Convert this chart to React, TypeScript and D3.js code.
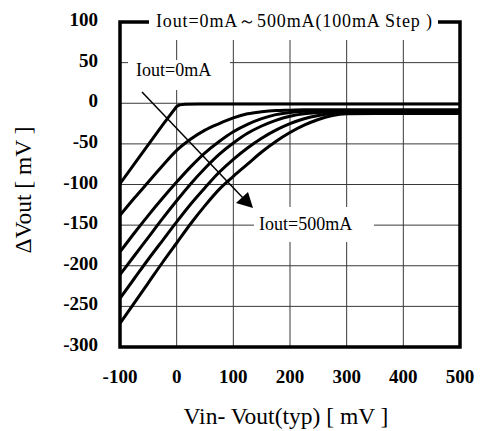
import React from "react";
import * as d3 from "d3";

const W = 481;
const H = 431;

const xTicks = [-100, 0, 100, 200, 300, 400, 500];
const yTicks = [100, 50, 0, -50, -100, -150, -200, -250, -300];

// Vin - Vout(typ) sample points [mV]
const curveX0 = [-100, -75, -50, -25, -10, 0, 5, 15, 40, 500];
const curve0mA = [-99, -75, -51, -27, -13, -4, -2, -1.2, -1, -1];

const curveX = [-100, -75, -50, -25, 0, 25, 50, 75, 100, 125, 150, 175, 200, 225, 250, 275, 300, 350, 500];
const curve100mA = [-138, -117, -97, -77, -58, -44, -33, -25, -18, -13, -10.5, -9, -8.5, -8, -8, -8, -8, -8, -8];
const curve200mA = [-183, -160, -138, -117, -97, -78, -61, -47, -35, -26, -19, -14, -11.5, -10, -9.5, -9.5, -9.5, -9.5, -9.5];
const curve300mA = [-211, -188, -165, -142, -120, -99, -80, -63, -49, -37, -28, -21, -16, -13, -11.5, -10.5, -10.5, -10.5, -10.5];
const curve400mA = [-240, -216, -192, -169, -146, -124, -104, -85, -69, -55, -43, -33, -25, -19, -15, -12.5, -11.5, -11.5, -11.5];
const curve500mA = [-271, -246, -221, -196, -172, -148, -126, -106, -90, -75, -60, -47, -36, -27, -20, -15, -13, -12.5, -12.5];

const seriesList = [curve100mA, curve200mA, curve300mA, curve400mA, curve500mA];

const titleText = "Iout=0mA～500mA(100mA Step )";
const label0 = "Iout=0mA";
const label500 = "Iout=500mA";
const xTitle = "Vin- Vout(typ) [ mV ]";
const yTitle = "ΔVout [ mV ]";

const serif = '"Liberation Serif", "Times New Roman", "DejaVu Serif", serif';

export default function App() {
  const x = d3.scaleLinear().domain([-100, 500]).range([120, 460]);
  const y = d3.scaleLinear().domain([-300, 100]).range([347, 22]);
  const line = d3
    .line<[number, number]>()
    .x((d) => x(d[0]))
    .y((d) => y(d[1]))
    .curve(d3.curveMonotoneX);
  const line0 = d3
    .line<[number, number]>()
    .x((d) => x(d[0]))
    .y((d) => y(d[1]));

  const gridColor = "#3a3a3a";
  const ts = { fontFamily: serif };

  const [x0, x1] = x.range();
  const [y0, y1] = y.range();

  return (
    <svg
      width={W}
      height={H}
      style={{ position: "absolute", left: 0, top: 0, background: "#fff" }}
    >
      <rect x={0} y={0} width={W} height={H} fill="#fff" />
      <defs>
        <clipPath id="plot">
          <rect x={x0} y={y1} width={x1 - x0} height={y0 - y1} />
        </clipPath>
      </defs>
      {/* grid */}
      {xTicks.slice(1, -1).map((t) => (
        <line key={"gx" + t} x1={x(t)} x2={x(t)} y1={y1} y2={y0} stroke={gridColor} strokeWidth={1} />
      ))}
      {yTicks.slice(1, -1).map((t) => (
        <line key={"gy" + t} x1={x0} x2={x1} y1={y(t)} y2={y(t)} stroke={gridColor} strokeWidth={1} />
      ))}
      {/* curves */}
      <g clipPath="url(#plot)" fill="none" stroke="#000" strokeWidth={3} strokeLinejoin="round">
        <path d={line0(curveX0.map((v, i) => [v, curve0mA[i]]) as [number, number][]) || ""} />
        {seriesList.map((s, k) => (
          <path key={k} d={line(curveX.map((v, i) => [v, s[i]]) as [number, number][]) || ""} />
        ))}
      </g>
      {/* label 0mA with white box */}
      <rect x={128} y={60} width={102} height={30} fill="#fff" />
      <text x={136} y={76} fontSize={18} fill="#000" style={ts}>
        {label0}
      </text>
      {/* arrow */}
      <line x1={142} y1={92} x2={244} y2={199} stroke="#000" strokeWidth={1.5} />
      <polygon points="253,208 236,203 248,192" fill="#000" />
      {/* label 500mA */}
      <rect x={254} y={207} width={120} height={35} fill="#fff" />
      <text x={259} y={230} fontSize={18} fill="#000" style={ts}>
        {label500}
      </text>
      {/* frame */}
      <rect x={x0} y={y1} width={x1 - x0} height={y0 - y1} fill="none" stroke="#000" strokeWidth={3.5} />
      {/* title box */}
      <rect x={149} y={6} width={289} height={34} fill="#fff" />
      <text x={156} y={27} fontSize={18} fill="#000" style={ts} textLength={276} lengthAdjust="spacing">
        {titleText}
      </text>
      {/* y ticks */}
      {yTicks.map((t) => (
        <text
          key={"yt" + t}
          x={98}
          y={y(t) + 4}
          textAnchor="end"
          fontSize={19}
          fontWeight="bold"
          fill="#000"
          style={ts}
        >
          {t}
        </text>
      ))}
      {/* x ticks */}
      {xTicks.map((t) => (
        <text
          key={"xt" + t}
          x={x(t)}
          y={383}
          textAnchor="middle"
          fontSize={19}
          fontWeight="bold"
          fill="#000"
          style={ts}
        >
          {t}
        </text>
      ))}
      {/* axis titles */}
      <text x={286} y={424} textAnchor="middle" fontSize={23.5} fill="#000" style={ts}>
        {xTitle}
      </text>
      <text
        transform={`translate(31, 190) rotate(-90)`}
        textAnchor="middle"
        fontSize={23.5}
        fill="#000"
        style={ts}
      >
        {yTitle}
      </text>
    </svg>
  );
}
